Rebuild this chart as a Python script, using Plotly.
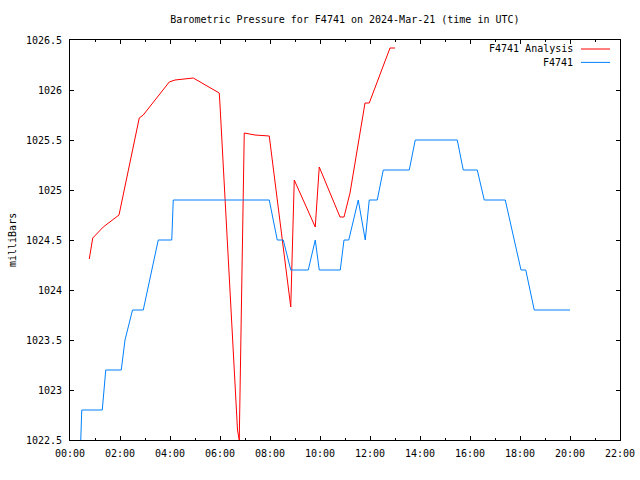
import plotly.graph_objects as go

# ---- data (hours since 00:00 UTC, pressure in mbar) ----
analysis_hours = [0.77, 0.91, 1.33, 1.91, 1.96, 2.77, 2.93, 3.97, 4.2, 4.93, 5.97, 6.0,
                  6.7, 6.77, 6.97, 7.4, 7.97, 8.83, 8.97, 9.81, 9.97, 10.8, 10.96,
                  11.2, 11.8, 11.97, 12.8, 13.0]
analysis_mbar = [1024.31, 1024.52, 1024.63, 1024.74, 1024.75, 1025.72, 1025.75, 1026.08,
                 1026.1, 1026.12, 1025.97, 1025.85, 1022.6, 1022.5, 1025.57, 1025.55,
                 1025.54, 1023.83, 1025.1, 1024.63, 1025.23, 1024.73, 1024.73,
                 1024.97, 1025.87, 1025.87, 1026.42, 1026.42]

station_hours = [0.43, 0.47, 1.29, 1.43, 2.05, 2.2, 2.5, 2.93, 3.53, 4.07, 4.13, 7.97,
                 8.29, 8.53, 8.83, 9.53, 9.81, 9.97, 10.81, 10.96, 11.15, 11.53, 11.81,
                 11.97, 12.29, 12.53, 13.57, 13.81, 15.49, 15.73, 16.29, 16.57, 17.41,
                 18.04, 18.23, 18.57, 20.0]
station_mbar = [1022.5, 1022.8, 1022.8, 1023.2, 1023.2, 1023.5, 1023.8, 1023.8, 1024.5,
                1024.5, 1024.9, 1024.9, 1024.5, 1024.5, 1024.2, 1024.2, 1024.5, 1024.2,
                1024.2, 1024.5, 1024.5, 1024.9, 1024.5, 1024.9, 1024.9, 1025.2, 1025.2,
                1025.5, 1025.5, 1025.2, 1025.2, 1024.9, 1024.9, 1024.2, 1024.2, 1023.8,
                1023.8]

x_tick_vals = [0, 2, 4, 6, 8, 10, 12, 14, 16, 18, 20, 22]
x_tick_text = ["00:00", "02:00", "04:00", "06:00", "08:00", "10:00", "12:00",
               "14:00", "16:00", "18:00", "20:00", "22:00"]
y_tick_vals = [1022.5, 1023, 1023.5, 1024, 1024.5, 1025, 1025.5, 1026, 1026.5]
y_tick_text = ["1022.5", "1023", "1023.5", "1024", "1024.5", "1025", "1025.5", "1026", "1026.5"]

series_names = ["F4741 Analysis", "F4741"]
series_colors = ["#ff0000", "#0080ff"]

FONT = "DejaVu Sans Mono"

fig = go.Figure()
fig.add_trace(go.Scatter(x=analysis_hours, y=analysis_mbar, mode="lines",
                         name=series_names[0], line=dict(color=series_colors[0], width=1)))
fig.add_trace(go.Scatter(x=station_hours, y=station_mbar, mode="lines",
                         name=series_names[1], line=dict(color=series_colors[1], width=1)))

fig.update_layout(
    width=640, height=480,
    margin=dict(l=70, r=20, t=40, b=40, autoexpand=False),
    paper_bgcolor="white", plot_bgcolor="white",
    showlegend=False,
    font=dict(family=FONT, size=10, color="black"),
    title=dict(text="Barometric Pressure for F4741 on 2024-Mar-21 (time in UTC)",
               x=0.539, xanchor="center", y=1 - 19 / 480, yanchor="middle",
               font=dict(family=FONT, size=10, color="black")),
)
fig.update_xaxes(range=[0, 22], tickvals=x_tick_vals, ticktext=x_tick_text,
                 ticks="inside", ticklen=4, tickcolor="black", mirror="ticks",
                 showline=True, linecolor="black", linewidth=1, showgrid=False,
                 zeroline=False, ticklabelstandoff=4, automargin=False,
                 minor=dict(dtick=1, tick0=0, ticks="inside", ticklen=2, tickcolor="black",
                            showgrid=False))
fig.update_yaxes(range=[1022.5, 1026.5], tickvals=y_tick_vals, ticktext=y_tick_text,
                 ticks="inside", ticklen=4, tickcolor="black", mirror="ticks",
                 showline=True, linecolor="black", linewidth=1, showgrid=False,
                 zeroline=False, ticklabelstandoff=5, automargin=False)

# y-axis label
fig.add_annotation(text="milliBars", xref="paper", yref="paper", x=-58 / 550, y=0.5,
                   xanchor="center", yanchor="middle", textangle=-90, showarrow=False,
                   font=dict(family=FONT, size=10, color="black"))

# gnuplot-style legend (text then sample line), top right
for i, (name, col) in enumerate(zip(series_names, series_colors)):
    ypos = 1 - (9 + 13.4 * i) / 400
    fig.add_annotation(text=name, xref="paper", yref="paper", x=(575 - 70) / 550, y=ypos,
                       xanchor="right", yanchor="middle", showarrow=False,
                       font=dict(family=FONT, size=10, color="black"))
    fig.add_shape(type="line", xref="paper", yref="paper",
                  x0=(581 - 70) / 550, x1=(610 - 70) / 550, y0=ypos, y1=ypos,
                  line=dict(color=col, width=1))

fig.write_html("out.html", config={"displayModeBar": False},
               post_script="document.body.style.margin='0';document.body.style.overflow='hidden';")
